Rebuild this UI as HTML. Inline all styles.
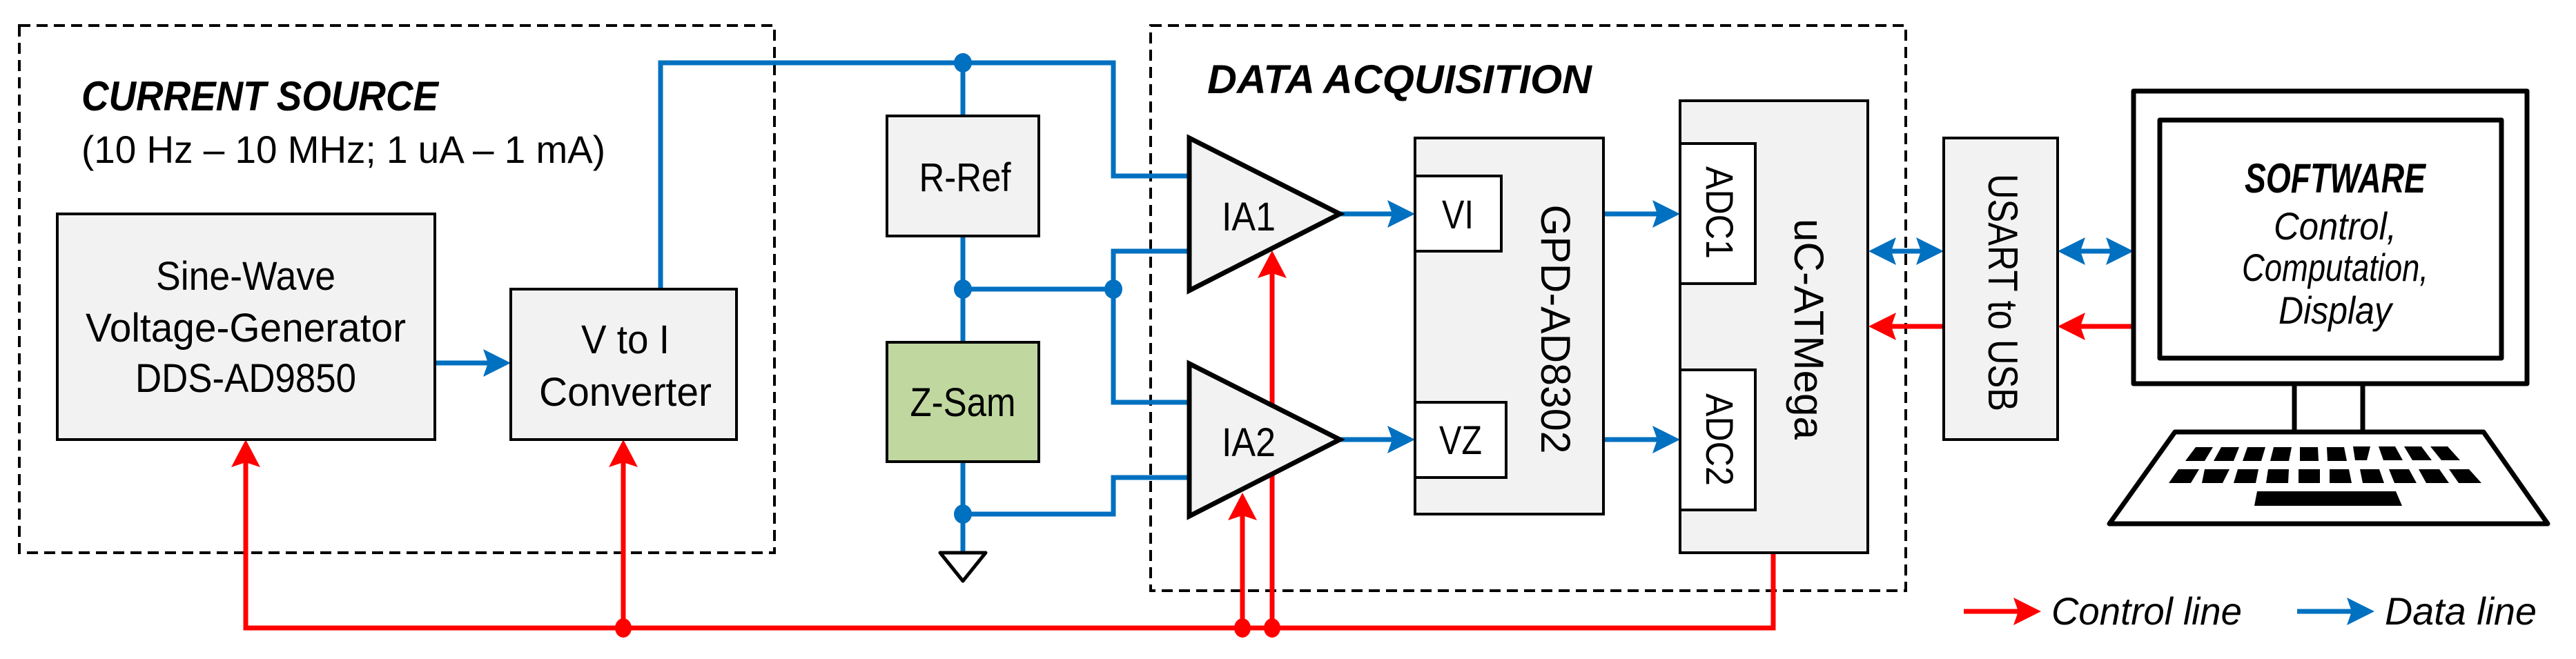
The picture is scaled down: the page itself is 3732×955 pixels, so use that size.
<!DOCTYPE html>
<html><head><meta charset="utf-8"><style>
html,body{margin:0;padding:0;background:#fff;}
svg{display:block;}
text{font-family:"Liberation Sans",sans-serif;fill:#000;}
</style></head><body>
<svg width="3732" height="955" viewBox="0 0 3732 955" xmlns="http://www.w3.org/2000/svg">
<!-- dashed group boxes -->
<rect x="28" y="37" width="1094" height="764" fill="none" stroke="#000" stroke-width="4" stroke-dasharray="16,9"/>
<rect x="1667" y="37" width="1094" height="819" fill="none" stroke="#000" stroke-width="4" stroke-dasharray="16,9"/>

<text x="118" y="160" font-size="60" font-weight="bold" font-style="italic" textLength="517" lengthAdjust="spacingAndGlyphs">CURRENT SOURCE</text>
<text x="118" y="236" font-size="56" textLength="759" lengthAdjust="spacingAndGlyphs">(10 Hz – 10 MHz; 1 uA – 1 mA)</text>
<text x="1749" y="135" font-size="58" font-weight="bold" font-style="italic" textLength="557" lengthAdjust="spacingAndGlyphs">DATA ACQUISITION</text>

<!-- red control lines (behind) -->
<g stroke="#ff0000" stroke-width="7" fill="none">
<polyline points="356,660 356,910 2569,910 2569,801"/>
<line x1="903" y1="660" x2="903" y2="910"/>
<line x1="1843" y1="390" x2="1843" y2="910"/>
<line x1="1800" y1="740" x2="1800" y2="910"/>
<line x1="2740" y1="473" x2="2816" y2="473"/>
<line x1="3014" y1="473" x2="3091" y2="473"/>
<line x1="2845" y1="886" x2="2925" y2="886"/>
</g>
<g fill="#ff0000">
<polygon points="356,637 335,677 356,670 377,677"/>
<polygon points="903,637 882,677 903,670 924,677"/>
<polygon points="1843,363 1822,403 1843,396 1864,403"/>
<polygon points="1800,714 1779,754 1800,747 1821,754"/>
<ellipse cx="903" cy="910" rx="12" ry="14"/>
<ellipse cx="1843" cy="910" rx="12" ry="14"/>
<ellipse cx="1800" cy="910" rx="12" ry="14"/>
<polygon points="2707,473 2747,453 2740,473 2747,493"/>
<polygon points="2981,473 3021,453 3014,473 3021,493"/>
<polygon points="2957,886 2917,866 2924,886 2917,906"/>
</g>

<!-- blue data lines -->
<g stroke="#0070c0" stroke-width="7" fill="none">
<line x1="630" y1="526" x2="710" y2="526"/>
<polyline points="957,419 957,91 1613,91 1613,255 1722,255"/>
<line x1="1395" y1="91" x2="1395" y2="168"/>
<line x1="1395" y1="342" x2="1395" y2="496"/>
<line x1="1395" y1="669" x2="1395" y2="800"/>
<polyline points="1395,419 1613,419"/>
<polyline points="1722,364 1613,364 1613,583 1722,583"/>
<polyline points="1395,745 1613,745 1613,692 1722,692"/>
<line x1="1941" y1="310" x2="2020" y2="310"/>
<line x1="1941" y1="637" x2="2020" y2="637"/>
<line x1="2323" y1="310" x2="2404" y2="310"/>
<line x1="2323" y1="637" x2="2404" y2="637"/>
<line x1="2740" y1="364" x2="2783" y2="364"/>
<line x1="3014" y1="364" x2="3058" y2="364"/>
<line x1="3328" y1="886" x2="3410" y2="886"/>
</g>
<g fill="#0070c0">
<polygon points="740,526 700,506 707,526 700,546"/>
<polygon points="2050,310 2010,290 2017,310 2010,330"/>
<polygon points="2050,637 2010,617 2017,637 2010,657"/>
<polygon points="2434,310 2394,290 2401,310 2394,330"/>
<polygon points="2434,637 2394,617 2401,637 2394,657"/>
<polygon points="2707,364 2747,344 2740,364 2747,384"/>
<polygon points="2816,364 2776,344 2783,364 2776,384"/>
<polygon points="2981,364 3021,344 3014,364 3021,384"/>
<polygon points="3091,364 3051,344 3058,364 3051,384"/>
<polygon points="3440,886 3400,866 3407,886 3400,906"/>
<ellipse cx="1395" cy="91" rx="13" ry="14"/>
<ellipse cx="1395" cy="419" rx="13" ry="14"/>
<ellipse cx="1613" cy="419" rx="13" ry="14"/>
<ellipse cx="1395" cy="745" rx="13" ry="14"/>
</g>

<!-- ground -->
<polygon points="1362,801 1428,801 1395,842" fill="#fff" stroke="#000" stroke-width="5" stroke-linejoin="round"/>

<!-- boxes -->
<g stroke="#000" stroke-width="4">
<rect x="83" y="310" width="547" height="327" fill="#f2f2f2"/>
<rect x="740" y="419" width="327" height="218" fill="#f2f2f2"/>
<rect x="1285" y="168" width="220" height="174" fill="#f2f2f2"/>
<rect x="1285" y="496" width="220" height="173" fill="#c0d89f"/>
<rect x="2050" y="200" width="273" height="545" fill="#f2f2f2"/>
<rect x="2050" y="255" width="125" height="109" fill="#fff"/>
<rect x="2050" y="583" width="132" height="109" fill="#fff"/>
<rect x="2434" y="146" width="272" height="655" fill="#f2f2f2"/>
<rect x="2434" y="208" width="109" height="203" fill="#fff"/>
<rect x="2434" y="536" width="109" height="203" fill="#fff"/>
<rect x="2816" y="200" width="165" height="437" fill="#f2f2f2"/>
</g>
<g stroke="#000" stroke-width="7" fill="#f2f2f2" stroke-linejoin="miter">
<polygon points="1723,200 1941,310 1723,421"/>
<polygon points="1723,527 1941,637 1723,748"/>
</g>

<!-- labels -->
<g font-size="58" text-anchor="middle">
<text x="356" y="420" textLength="260" lengthAdjust="spacingAndGlyphs">Sine-Wave</text>
<text x="356" y="495" textLength="464" lengthAdjust="spacingAndGlyphs">Voltage-Generator</text>
<text x="356" y="568" textLength="320" lengthAdjust="spacingAndGlyphs">DDS-AD9850</text>
<text x="906" y="512" textLength="128" lengthAdjust="spacingAndGlyphs">V to I</text>
<text x="906" y="588" textLength="250" lengthAdjust="spacingAndGlyphs">Converter</text>
<text x="1398" y="277" textLength="133" lengthAdjust="spacingAndGlyphs">R-Ref</text>
<text x="1395" y="603" textLength="153" lengthAdjust="spacingAndGlyphs">Z-Sam</text>
<text x="1809" y="334" textLength="78" lengthAdjust="spacingAndGlyphs">IA1</text>
<text x="1809" y="661" textLength="78" lengthAdjust="spacingAndGlyphs">IA2</text>
<text x="2112" y="331" textLength="46" lengthAdjust="spacingAndGlyphs">VI</text>
<text x="2116" y="658" textLength="62" lengthAdjust="spacingAndGlyphs">VZ</text>
</g>
<g font-size="60" text-anchor="middle">
<text transform="translate(2254,477) rotate(90)" y="21" textLength="361" lengthAdjust="spacingAndGlyphs">GPD-AD8302</text>
<text transform="translate(2621,477) rotate(90)" y="21" textLength="320" lengthAdjust="spacingAndGlyphs">uC-ATMega</text>
<text transform="translate(2902,424) rotate(90)" y="21" textLength="344" lengthAdjust="spacingAndGlyphs">USART to USB</text>
<text transform="translate(2492,308) rotate(90)" y="20" font-size="56" textLength="134" lengthAdjust="spacingAndGlyphs">ADC1</text>
<text transform="translate(2492,637) rotate(90)" y="20" font-size="56" textLength="134" lengthAdjust="spacingAndGlyphs">ADC2</text>
</g>

<!-- computer -->
<g stroke="#000" fill="none" stroke-width="7" stroke-linejoin="round">
<rect x="3091" y="132" width="570" height="424"/>
<rect x="3129" y="174" width="495" height="345"/>
<line x1="3324" y1="556" x2="3324" y2="626"/>
<line x1="3423" y1="556" x2="3423" y2="626"/>
<polygon points="3151,626 3598,626 3691,759 3056,759"/>
</g>
<g fill="#000">
<polygon points="3181,648 3206,648 3194,668 3166,668"/>
<polygon points="3218,648 3244,648 3236,668 3207,668"/>
<polygon points="3256,648 3282,648 3276,668 3249,668"/>
<polygon points="3294,648 3320,648 3316,668 3289,668"/>
<polygon points="3332,648 3358,648 3359,668 3332,668"/>
<polygon points="3371,648 3396,648 3400,668 3372,668"/>
<polygon points="3409,647 3434,647 3429,667 3412,667"/>
<polygon points="3446,647 3470,647 3481,667 3453,667"/>
<polygon points="3483,647 3508,647 3523,667 3495,667"/>
<polygon points="3521,647 3546,647 3564,667 3537,667"/>
<polygon points="3156,680 3186,680 3174,700 3142,700"/>
<polygon points="3194,680 3230,680 3220,700 3190,700"/>
<polygon points="3242,680 3272,680 3268,700 3236,700"/>
<polygon points="3286,680 3316,680 3315,700 3283,700"/>
<polygon points="3330,680 3361,680 3361,700 3330,700"/>
<polygon points="3375,680 3403,680 3407,700 3375,700"/>
<polygon points="3419,680 3447,680 3454,700 3423,700"/>
<polygon points="3461,680 3490,680 3501,700 3469,700"/>
<polygon points="3504,680 3534,680 3548,700 3515,700"/>
<polygon points="3548,680 3577,680 3595,700 3562,700"/>
<polygon points="3270,712 3471,712 3480,733 3266,733"/>
</g>
<text x="3383" y="279" font-size="60" font-weight="bold" font-style="italic" text-anchor="middle" textLength="262" lengthAdjust="spacingAndGlyphs">SOFTWARE</text>
<g font-size="56" font-style="italic" text-anchor="middle">
<text x="3383" y="347" textLength="178" lengthAdjust="spacingAndGlyphs">Control,</text>
<text x="3383" y="407" textLength="270" lengthAdjust="spacingAndGlyphs">Computation,</text>
<text x="3383" y="469" textLength="164" lengthAdjust="spacingAndGlyphs">Display</text>
</g>

<!-- legend -->
<g font-size="56" font-style="italic">
<text x="2972" y="905" textLength="276" lengthAdjust="spacingAndGlyphs">Control line</text>
<text x="3455" y="905" textLength="220" lengthAdjust="spacingAndGlyphs">Data line</text>
</g>
</svg>
</body></html>
